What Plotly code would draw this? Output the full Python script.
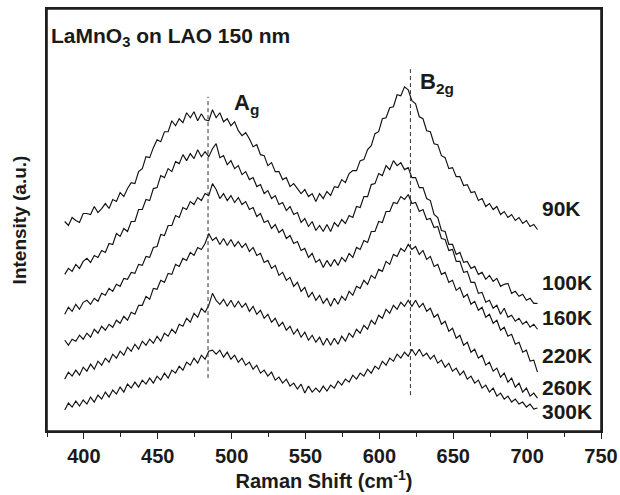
import plotly.graph_objects as go

# Raman shift sampling grid (cm^-1)
raman_shift = [387, 389.5, 392, 394.5, 397, 399.5, 402, 404.5, 407, 409.5, 412, 414.5, 417, 419.5, 422, 424.5,
               427, 429.5, 432, 434.5, 437, 439.5, 442, 444.5, 447, 449.5, 452, 454.5, 457, 459.5, 462, 464.5,
               467, 469.5, 472, 474.5, 477, 479.5, 482, 484.5, 487, 489.5, 492, 494.5, 497, 499.5, 502, 504.5,
               507, 509.5, 512, 514.5, 517, 519.5, 522, 524.5, 527, 529.5, 532, 534.5, 537, 539.5, 542, 544.5,
               547, 549.5, 552, 554.5, 557, 559.5, 562, 564.5, 567, 569.5, 572, 574.5, 577, 579.5, 582, 584.5,
               587, 589.5, 592, 594.5, 597, 599.5, 602, 604.5, 607, 609.5, 612, 614.5, 617, 619.5, 622, 624.5,
               627, 629.5, 632, 634.5, 637, 639.5, 642, 644.5, 647, 649.5, 652, 654.5, 657, 659.5, 662, 664.5,
               667, 669.5, 672, 674.5, 677, 679.5, 682, 684.5, 687, 689.5, 692, 694.5, 697, 699.5, 702, 704.5,
               707]

# Offset intensities (a.u.), noise included
i_90K = [210, 206, 214, 211, 209, 218, 218, 217, 225, 219, 223, 228, 223, 232, 230, 239,
         235, 243, 249, 248, 260, 263, 275, 274, 284, 292, 290, 300, 300, 311, 306, 313,
         309, 319, 314, 320, 311, 318, 312, 311, 322, 314, 319, 310, 313, 306, 310, 301,
         296, 299, 293, 285, 287, 277, 276, 266, 269, 260, 260, 252, 254, 245, 248, 243,
         238, 242, 235, 238, 230, 238, 233, 240, 236, 245, 244, 252, 249, 258, 261, 261,
         271, 272, 282, 286, 298, 300, 313, 314, 324, 325, 337, 336, 345, 342, 331, 328,
         315, 313, 301, 300, 288, 287, 276, 274, 263, 264, 255, 255, 246, 247, 239, 240,
         231, 233, 225, 228, 222, 225, 217, 220, 214, 217, 211, 214, 208, 211, 205, 207,
         202]
i_100K = [157, 163, 160, 167, 163, 170, 173, 169, 176, 174, 181, 179, 188, 187, 198, 195,
          203, 200, 210, 210, 222, 222, 232, 231, 243, 244, 256, 254, 263, 260, 270, 268,
          277, 271, 278, 273, 282, 275, 280, 275, 283, 288, 274, 276, 267, 271, 263, 266,
          257, 260, 252, 254, 245, 247, 238, 241, 233, 236, 227, 229, 221, 225, 217, 219,
          209, 213, 205, 210, 201, 206, 200, 207, 200, 209, 205, 212, 208, 216, 214, 225,
          224, 235, 235, 247, 248, 258, 256, 266, 262, 271, 266, 269, 262, 264, 254, 254,
          244, 244, 233, 231, 217, 214, 201, 200, 187, 187, 177, 179, 169, 170, 163, 165,
          157, 159, 152, 156, 150, 153, 145, 147, 148, 138, 140, 135, 137, 131, 133, 128,
          128]
i_160K = [117, 124, 120, 127, 122, 129, 131, 127, 133, 130, 138, 136, 143, 140, 147, 145,
          153, 152, 159, 158, 167, 166, 175, 174, 184, 185, 197, 196, 206, 206, 216, 214,
          224, 222, 230, 227, 234, 231, 238, 236, 248, 242, 233, 238, 231, 236, 229, 234,
          227, 230, 222, 224, 215, 218, 209, 211, 203, 207, 199, 202, 193, 196, 188, 190,
          181, 183, 174, 178, 169, 172, 164, 171, 165, 172, 166, 174, 170, 178, 174, 184,
          182, 191, 189, 200, 200, 210, 209, 220, 220, 229, 228, 235, 232, 237, 228, 229,
          220, 222, 212, 213, 204, 205, 193, 192, 181, 182, 170, 170, 159, 160, 149, 149,
          138, 139, 129, 131, 123, 126, 117, 123, 114, 116, 110, 113, 107, 110, 104, 107,
          102]
i_220K = [91, 86, 92, 90, 96, 92, 98, 94, 102, 98, 105, 101, 107, 104, 111, 108,
          115, 111, 119, 117, 126, 126, 135, 132, 143, 142, 151, 149, 158, 157, 167, 165,
          173, 171, 179, 176, 184, 182, 188, 198, 191, 194, 187, 193, 186, 192, 185, 190,
          184, 188, 180, 184, 176, 178, 169, 171, 163, 166, 156, 159, 151, 154, 145, 149,
          140, 144, 134, 139, 131, 136, 128, 133, 125, 133, 127, 135, 131, 140, 136, 145,
          143, 151, 147, 156, 153, 162, 160, 170, 167, 177, 175, 183, 180, 187, 182, 185,
          177, 181, 172, 175, 165, 167, 157, 159, 149, 151, 141, 144, 134, 137, 127, 130,
          121, 124, 114, 117, 108, 111, 101, 104, 95, 97, 87, 89, 79, 81, 70, 71,
          59]
i_260K = [52, 59, 55, 61, 56, 64, 60, 67, 62, 70, 66, 73, 69, 77, 73, 80,
          76, 84, 80, 87, 82, 90, 86, 92, 88, 95, 90, 98, 95, 102, 98, 107,
          105, 113, 109, 118, 114, 123, 119, 126, 138, 131, 127, 132, 125, 131, 124, 130,
          124, 128, 120, 125, 117, 121, 113, 117, 109, 113, 105, 109, 101, 105, 97, 102,
          94, 99, 91, 96, 89, 94, 86, 93, 86, 93, 87, 95, 90, 98, 94, 102,
          98, 106, 102, 111, 107, 116, 113, 122, 118, 126, 122, 129, 125, 131, 125, 131,
          124, 128, 120, 123, 114, 117, 107, 110, 100, 103, 93, 96, 86, 89, 79, 82,
          73, 76, 66, 69, 60, 63, 54, 58, 49, 53, 44, 48, 39, 43, 35, 38,
          33]
i_300K = [21, 28, 24, 30, 25, 31, 27, 34, 29, 36, 32, 39, 34, 41, 37, 44,
          39, 47, 43, 49, 44, 51, 47, 53, 48, 55, 51, 58, 53, 61, 58, 65,
          61, 69, 66, 73, 68, 76, 72, 80, 81, 77, 81, 74, 79, 72, 76, 69,
          73, 66, 69, 62, 66, 58, 61, 55, 59, 51, 54, 48, 52, 45, 48, 42,
          47, 38, 45, 39, 43, 39, 45, 40, 46, 43, 50, 46, 52, 49, 56, 52,
          58, 55, 62, 58, 65, 62, 70, 66, 73, 70, 77, 73, 79, 75, 82, 76,
          82, 75, 78, 72, 76, 68, 71, 64, 68, 60, 63, 56, 60, 52, 55, 48,
          51, 43, 46, 39, 43, 35, 38, 32, 35, 29, 32, 27, 29, 24, 27, 22,
          23]

series = [("90K", i_90K), ("100K", i_100K), ("160K", i_160K),
          ("220K", i_220K), ("260K", i_260K), ("300K", i_300K)]
for _n, _v in series:
    assert len(_v) == len(raman_shift), (_n, len(_v))
label_y = {"90K": 223, "100K": 149, "160K": 114, "220K": 76, "260K": 44, "300K": 20}

mode_names = ["A<sub>g</sub>", "B<sub>2g</sub>"]
mode_pos = [484, 621]
mode_line_y = [(53, 335), (36, 363)]
mode_label_xy = [(500, 328), (626, 349)]

FONT = "Liberation Sans, Arial, sans-serif"
TXT = "#1a1a1a"
FRAME = "#1e1e1e"

fig = go.Figure()
for name, vals in series:
    fig.add_trace(go.Scatter(x=raman_shift, y=vals, mode="lines", name=name,
                             line=dict(color="#111111", width=1.15), showlegend=False,
                             hoverinfo="skip"))
    fig.add_annotation(x=708.5, y=label_y[name], xref="x", yref="y", text=name,
                       showarrow=False, xanchor="left", yanchor="middle",
                       font=dict(family=FONT, size=21, color=TXT, weight="bold"))

for nm, xp, (y0, y1), (lx, ly) in zip(mode_names, mode_pos, mode_line_y, mode_label_xy):
    fig.add_shape(type="line", xref="x", yref="y", x0=xp, x1=xp, y0=y0, y1=y1,
                  line=dict(color="#333333", width=1, dash="4px,3px"))
    fig.add_annotation(x=lx, y=ly, xref="x", yref="y", text=nm, showarrow=False,
                       xanchor="left", yanchor="middle",
                       font=dict(family=FONT, size=22, color=TXT, weight="bold"))

# plot frame drawn as an unclipped paper-referenced rectangle
fig.add_shape(type="rect", xref="paper", yref="paper", x0=0, x1=1, y0=0, y1=1,
              line=dict(color=FRAME, width=1.6), fillcolor="rgba(0,0,0,0)", layer="above")

fig.add_annotation(x=0.003, y=0.934, xref="paper", yref="paper",
                   text="LaMnO<sub>3</sub> on LAO 150 nm", showarrow=False,
                   xanchor="left", yanchor="middle",
                   font=dict(family=FONT, size=21, color=TXT, weight="bold"))

fig.update_layout(
    template="none",
    width=620, height=495,
    margin=dict(l=47, r=19, t=9, b=64),
    paper_bgcolor="white", plot_bgcolor="white",
    font=dict(family=FONT, color=TXT),
    showlegend=False,
)
fig.update_xaxes(range=[375, 750], showgrid=False, zeroline=False, automargin=False,
                 showline=True, mirror=True, linecolor=FRAME, linewidth=1.6,
                 ticks="outside", ticklen=6, tickwidth=1.2, tickcolor=FRAME,
                 tickvals=[400, 450, 500, 550, 600, 650, 700, 750],
                 ticktext=["400", "450", "500", "550", "600", "650", "700", "750"],
                 minor=dict(tickvals=[375, 425, 475, 525, 575, 625, 675, 725],
                            ticks="outside", ticklen=4, tickcolor=FRAME, tickwidth=1.2),
                 tickfont=dict(family=FONT, size=20, color=TXT, weight="bold"),
                 title=dict(text="Raman Shift (cm<sup>-1</sup>)", standoff=6,
                            font=dict(family=FONT, size=20, color=TXT, weight="bold")))
fig.update_yaxes(range=[0, 423], showgrid=False, zeroline=False, automargin=False,
                 showline=True, mirror=True, linecolor=FRAME, linewidth=1.6,
                 showticklabels=False, ticks="",
                 title=dict(text="Intensity (a.u.)", standoff=14,
                            font=dict(family=FONT, size=19, color=TXT, weight="bold")))

fig.write_html("out.html", config={"displayModeBar": False},
               post_script="document.body.style.margin='0';document.body.style.overflow='hidden';")
